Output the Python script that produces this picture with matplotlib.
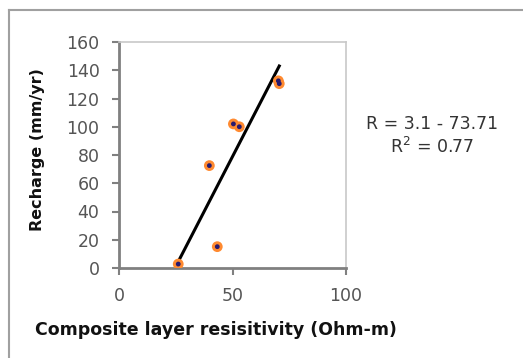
import matplotlib.pyplot as plt
from matplotlib.lines import Line2D

# resistivity (Ohm-m) vs recharge (mm/yr)
resistivity = [26.1, 39.8, 43.3, 50.4, 53.0, 70.2, 70.6]
recharge = [2.8, 72.5, 15.1, 102.0, 100.0, 132.5, 130.5]

# fitted trend line end points
fit_x = [26.1, 70.6]
fit_y = [4.5, 143.0]

x_ticks = [0, 50, 100]
y_ticks = [0, 20, 40, 60, 80, 100, 120, 140, 160]

plt.rcParams['font.family'] = ['DejaVu Sans']

fig = plt.figure(figsize=(5.23, 3.58), dpi=100)
fig.patch.set_facecolor('white')

# outer chart frame: only the top and left edges are inside the picture
fx, fy = 9 / 523, 1 - 10 / 358
fig.add_artist(Line2D([fx, 1.2], [fy, fy], transform=fig.transFigure,
                      color='#a0a0a0', linewidth=1.5))
fig.add_artist(Line2D([fx, fx], [-0.2, fy], transform=fig.transFigure,
                      color='#a0a0a0', linewidth=1.5))

ax = fig.add_axes([119 / 523, 1 - 268 / 358, 227 / 523, 226 / 358])
ax.plot(fit_x, fit_y, color='black', linewidth=2.2, zorder=2)
ax.scatter(resistivity, recharge, s=60, color='#ff8a30', edgecolors='none', zorder=3)
ax.scatter(resistivity, recharge, s=12, color='#2a1a6e', edgecolors='none', zorder=4)

ax.set_xlim(0, 100)
ax.set_ylim(0, 160)
ax.set_xticks(x_ticks)
ax.set_yticks(y_ticks)
ax.tick_params(axis='both', direction='out', length=5, width=1.5, color='#808080',
               labelsize=12.5, labelcolor='#555555')
ax.tick_params(axis='x', pad=9)
ax.tick_params(axis='y', pad=9)

for side in ['left', 'bottom']:
    ax.spines[side].set_color('#808080')
    ax.spines[side].set_linewidth(2)
for side in ['top', 'right']:
    ax.spines[side].set_color('#c8c8c8')
    ax.spines[side].set_linewidth(1.2)

ax.set_xlabel('Composite layer resisitivity (Ohm-m)', fontsize=12.5, fontweight='bold',
              color='#111111')
ax.xaxis.set_label_coords((216 - 119) / 227, -(330 - 268) / 226)
ax.xaxis.label.set_va('center')
ax.set_ylabel('Recharge (mm/yr)', fontsize=11.5, fontweight='bold', color='#111111')
ax.yaxis.set_label_coords(-(119 - 38) / 227, (268 - 150) / 226)
ax.yaxis.label.set_va('center')

fig.text(432 / 523, 1 - 124 / 358, 'R = 3.1 - 73.71', fontsize=12.5, color='#333333',
         ha='center', va='center')
fig.text(432 / 523, 1 - 147 / 358, 'R$^2$ = 0.77', fontsize=12.5, color='#333333',
         ha='center', va='center')

fig.savefig('out.png', dpi=100)
